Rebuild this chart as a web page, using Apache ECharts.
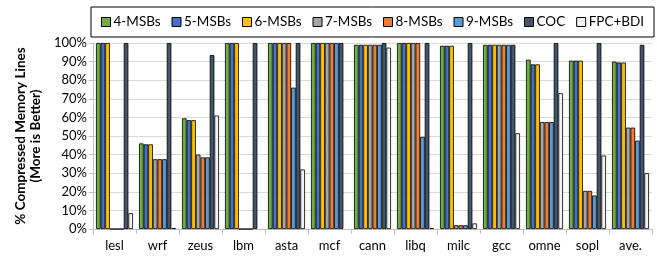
<!DOCTYPE html>
<html><head><meta charset="utf-8">
<script src="https://cdn.jsdelivr.net/npm/echarts@6/dist/echarts.min.js"></script>
<style>html,body{margin:0;padding:0;background:#fff}#c{width:657px;height:260px}</style>
</head><body><div id="c"></div>
<script>
const categories = ['lesl','wrf','zeus','lbm','asta','mcf','cann','libq','milc','gcc','omne','sopl','ave.'];
const seriesNames = ['4-MSBs','5-MSBs','6-MSBs','7-MSBs','8-MSBs','9-MSBs','COC','FPC+BDI'];
const msb4 = [100, 46, 59.5, 100, 100, 100, 99, 100, 98.5, 99, 91, 90.5, 90];
const msb5 = [100, 45.5, 58.5, 100, 100, 100, 99, 100, 98.5, 99, 88.5, 90.5, 89.5];
const msb6 = [100, 45.5, 58.5, 100, 100, 100, 99, 100, 98.5, 99, 88.5, 90.5, 89.5];
const msb7 = [0, 37.5, 40, 0, 100, 100, 99, 100, 2, 99, 57.5, 20.5, 54.5];
const msb8 = [0, 37.5, 38.5, 0, 100, 100, 99, 100, 2, 99, 57.5, 20.5, 54.5];
const msb9 = [0, 37.5, 38.5, 0, 76, 100, 99, 49.5, 2, 99, 57.5, 18, 47.5];
const coc = [100, 100, 93.5, 100, 100, 100, 100, 100, 100, 99, 100, 100, 99];
const fpcbdi = [8.5, 0.5, 61, null, 32, null, 97.5, 0.5, 3, 51.5, 73, 39.5, 30];
const yTicks = [0,10,20,30,40,50,60,70,80,90,100];

const values = [msb4, msb5, msb6, msb7, msb8, msb9, coc, fpcbdi];
const colors = ['#70AD47','#4472C4','#FFC000','#A5A5A5','#ED7D31','#5B9BD5','#44546A','#F2F2F2'];
const FONT = 'Lato';

const chart = echarts.init(document.getElementById('c'), null, {renderer:'canvas'});
chart.setOption({
  animation: false,
  textStyle: {fontFamily: FONT},
  legend: {
    top: 7, left: 91, right: 8, width: 551, height: 20,
    borderColor: '#000', borderWidth: 1, padding: [8, 10, 8, 10],
    itemWidth: 9, itemHeight: 9, itemGap: 11,
    textStyle: {fontFamily: FONT, fontSize: 13.5, color: '#000', padding: [0,0,0,-2]},
    data: seriesNames.map(n => ({name: n, icon: 'rect', itemStyle: {borderColor:'#000', borderWidth: 1}}))
  },
  grid: {left: 93, right: 5, top: 43, bottom: 31, containLabel: false},
  xAxis: {
    type: 'category', data: categories,
    axisLine: {show: true, lineStyle: {color: '#BFBFBF'}},
    axisTick: {show: true, alignWithLabel: false, length: 5, lineStyle: {color: '#BFBFBF'}},
    axisLabel: {fontFamily: FONT, fontSize: 13, color: '#000', margin: 10}
  },
  yAxis: {
    type: 'value', min: yTicks[0], max: yTicks[yTicks.length-1], interval: 10,
    name: '% Compressed Memory Lines\n(More is Better)',
    nameLocation: 'middle', nameGap: 47, nameRotate: 90,
    nameTextStyle: {fontFamily: FONT, fontSize: 13.5, fontWeight: 'bold', color: '#000', lineHeight: 15},
    axisLine: {show: true, lineStyle: {color: '#BFBFBF'}},
    axisTick: {show: true, length: 4, lineStyle: {color: '#BFBFBF'}},
    splitLine: {show: true, lineStyle: {color: '#D9D9D9'}},
    axisLabel: {fontFamily: FONT, fontSize: 13, color: '#000', margin: 6, formatter: v => v + '%'}
  },
  series: seriesNames.map((n, i) => ({
    name: n, type: 'bar', data: values[i],
    barGap: '0%', barCategoryGap: '14%',
    itemStyle: {color: colors[i], borderColor: '#000', borderWidth: 0.8}
  }))
});
</script></body></html>
